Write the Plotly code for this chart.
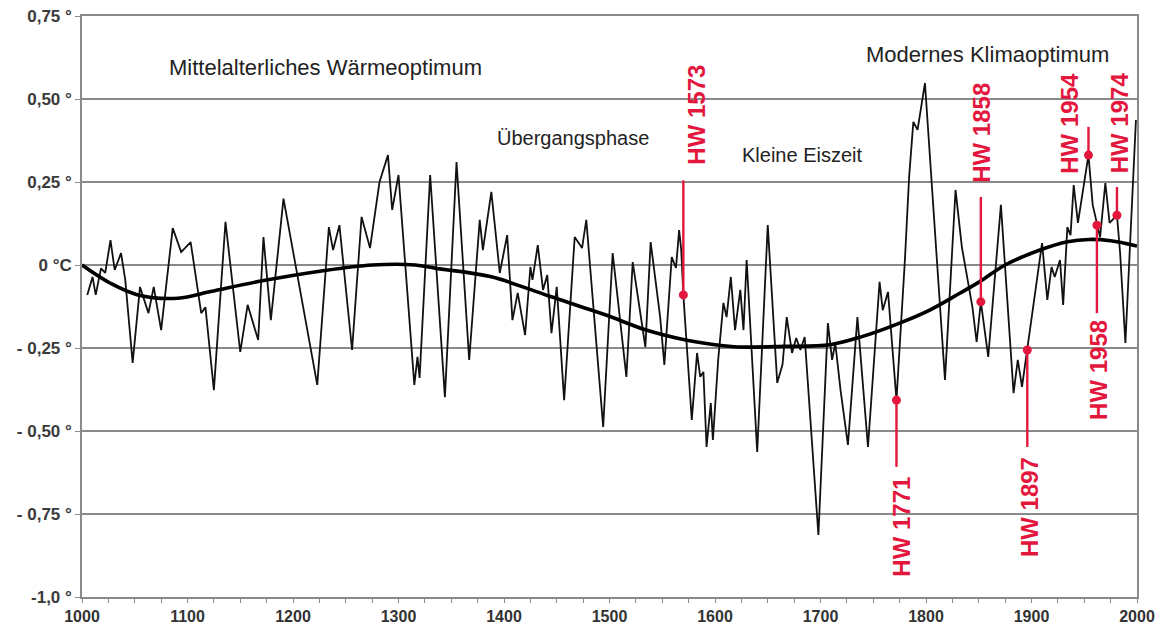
import plotly.graph_objects as go

# ---- data ----
years = [1005, 1010, 1013, 1018, 1022, 1027, 1031, 1037, 1041, 1048, 1055, 1063, 1068, 1075,
         1086, 1094, 1103, 1113, 1117, 1125, 1136, 1150, 1157, 1167, 1172, 1179, 1191, 1223,
         1234, 1238, 1244, 1256, 1265, 1273, 1282, 1290, 1294, 1300, 1315, 1318, 1320, 1330,
         1344, 1355, 1367, 1377, 1380, 1388, 1396, 1403, 1408, 1413, 1420, 1425, 1427, 1432,
         1437, 1441, 1445, 1450, 1457, 1462, 1467, 1474, 1478, 1494, 1503, 1516, 1522, 1534,
         1539, 1548, 1552, 1559, 1563, 1566, 1568, 1570, 1578, 1583, 1586, 1589, 1592, 1596,
         1598, 1603, 1608, 1611, 1615, 1619, 1624, 1627, 1630, 1640, 1650, 1659, 1664, 1668,
         1673, 1677, 1681, 1685, 1698, 1707, 1711, 1714, 1719, 1726, 1735, 1745, 1756, 1759,
         1764, 1772, 1780, 1784, 1788, 1792, 1799, 1818, 1828, 1834, 1840, 1844, 1848, 1852,
         1859, 1871, 1883, 1887, 1891, 1896, 1903, 1910, 1915, 1919, 1922, 1927, 1930, 1934,
         1937, 1940, 1944, 1954, 1958, 1962, 1965, 1970, 1974, 1981, 1984, 1989, 1995, 1999]
temps = [-0.09, -0.036, -0.09, -0.01, -0.024, 0.075, -0.015, 0.036, -0.045, -0.295, -0.066, -0.145, -0.066, -0.196,
         0.111, 0.039, 0.069, -0.145, -0.127, -0.377, 0.13, -0.262, -0.12, -0.226, 0.084, -0.166, 0.20, -0.361,
         0.114, 0.045, 0.12, -0.256, 0.145, 0.051, 0.25, 0.331, 0.166, 0.271, -0.361, -0.277, -0.34, 0.271,
         -0.398, 0.31, -0.286, 0.136, 0.045, 0.22, -0.024, 0.09, -0.166, -0.084, -0.211, -0.006, -0.045, 0.06,
         -0.075, -0.03, -0.205, -0.066, -0.407, -0.175, 0.084, 0.051, 0.136, -0.488, 0.036, -0.337, 0.009, -0.247,
         0.069, -0.157, -0.301, 0.024, -0.009, 0.105, 0.045, -0.09, -0.467, -0.265, -0.337, -0.322, -0.548, -0.416,
         -0.527, -0.286, -0.114, -0.157, -0.036, -0.196, -0.075, -0.196, 0.015, -0.563, 0.12, -0.355, -0.30, -0.157,
         -0.265, -0.22, -0.256, -0.217, -0.813, -0.175, -0.286, -0.235, -0.377, -0.542, -0.157, -0.548, -0.051, -0.136,
         -0.081, -0.407, 0.015, 0.265, 0.431, 0.407, 0.548, -0.346, 0.226, 0.054, -0.054, -0.127, -0.232, -0.111,
         -0.277, 0.181, -0.386, -0.286, -0.367, -0.256, -0.096, 0.066, -0.105, -0.006, -0.036, 0.015, -0.12, 0.114,
         0.09, 0.241, 0.127, 0.331, 0.181, 0.12, 0.084, 0.247, 0.127, 0.15, 0.036, -0.235, 0.157, 0.437]

trend_years = [1000, 1027, 1053, 1091, 1122, 1167, 1227, 1275, 1316, 1335, 1387, 1444, 1496, 1534,
               1571, 1600, 1622, 1666, 1709, 1740, 1775, 1804, 1832, 1851, 1875, 1908, 1934, 1955,
               1975, 2000]
trend_vals = [0.0, -0.055, -0.09, -0.10, -0.08, -0.05, -0.018, 0.0, 0.0, -0.01, -0.035, -0.095, -0.15, -0.195,
              -0.225, -0.24, -0.247, -0.245, -0.24, -0.215, -0.175, -0.135, -0.085, -0.05, 0.0, 0.045, 0.07, 0.077,
              0.073, 0.057]

# heat waves (HW): label, year of dot, value of dot, end value of leader line
hw_labels = ["HW 1573", "HW 1771", "HW 1858", "HW 1897", "HW 1954", "HW 1958", "HW 1974"]
hw_years = [1570, 1772, 1852, 1896, 1954, 1962, 1981]
hw_vals = [-0.09, -0.407, -0.111, -0.256, 0.331, 0.12, 0.15]
hw_line_end = [0.255, -0.608, 0.205, -0.548, 0.416, -0.145, 0.235]
hw_text_x = [1583, 1777, 1853, 1898, 1936, 1964, 1983]
hw_text_y = [0.453, -0.789, 0.398, -0.728, 0.427, -0.316, 0.427]

phase_labels = ["Mittelalterliches Wärmeoptimum", "Übergangsphase", "Kleine Eiszeit", "Modernes Klimaoptimum"]
phase_x = [1231, 1465, 1683, 1858]
phase_y = [0.596, 0.383, 0.331, 0.633]
phase_size = [22, 20, 20, 22]

y_tickvals = [0.75, 0.5, 0.25, 0.0, -0.25, -0.5, -0.75, -1.0]
y_ticktext = ["0,75 °", "0,50 °", "0,25 °", "0 °C", "- 0,25 °", "- 0,50 °", "- 0,75 °", "-1,0 °"]
x_tickvals = list(range(1000, 2001, 100))

RED = "#e3173d"
GRID = "#8a8a8a"
FONT = "Liberation Sans, Arial, sans-serif"

fig = go.Figure()
fig.add_trace(go.Scatter(x=years, y=temps, mode="lines",
                         line=dict(color="#111111", width=1.8), hoverinfo="skip"))
fig.add_trace(go.Scatter(x=trend_years, y=trend_vals, mode="lines",
                         line=dict(color="#000000", width=3.6, shape="spline", smoothing=1.0),
                         hoverinfo="skip"))

# leader lines
for yr, v, ve in zip(hw_years, hw_vals, hw_line_end):
    fig.add_shape(type="line", x0=yr, x1=yr, y0=v, y1=ve, xref="x", yref="y",
                  line=dict(color=RED, width=2.4))

fig.add_trace(go.Scatter(x=hw_years, y=hw_vals, mode="markers",
                         marker=dict(color=RED, size=9), hoverinfo="skip"))

for lab, tx, ty in zip(hw_labels, hw_text_x, hw_text_y):
    fig.add_annotation(x=tx, y=ty, text="<b>%s</b>" % lab, showarrow=False, textangle=-90,
                       xanchor="center", yanchor="middle",
                       font=dict(family=FONT, size=24, color=RED))

for lab, tx, ty, sz in zip(phase_labels, phase_x, phase_y, phase_size):
    fig.add_annotation(x=tx, y=ty, text=lab, showarrow=False,
                       xanchor="center", yanchor="middle",
                       font=dict(family=FONT, size=sz, color="#222222"))

fig.update_layout(
    width=1163, height=625,
    margin=dict(l=82, r=26, t=16, b=28),
    plot_bgcolor="white", paper_bgcolor="white",
    showlegend=False,
)
fig.update_xaxes(
    range=[1000, 2000], tickvals=x_tickvals,
    ticktext=["<b>%d</b>" % v for v in x_tickvals],
    ticks="outside", ticklen=4, tickcolor=GRID, tickwidth=1.3,
    showline=True, linecolor=GRID, linewidth=1.5, mirror=True,
    showgrid=False, zeroline=False, automargin=False,
    minor=dict(dtick=25, tick0=1000, ticks="outside", ticklen=4, tickcolor=GRID, showgrid=False),
    tickfont=dict(family=FONT, size=16, color="#333333"),
)
fig.update_yaxes(
    range=[-1.0, 0.75], tickvals=y_tickvals,
    ticktext=["<b>%s</b>" % t for t in y_ticktext],
    ticks="outside", ticklen=5, tickcolor=GRID, tickwidth=1.3,
    showline=True, linecolor=GRID, linewidth=1.5, mirror=True,
    showgrid=True, gridcolor=GRID, gridwidth=1.5, zeroline=False, automargin=False,
    ticklabeloverflow="allow",
    tickfont=dict(family=FONT, size=17, color="#3a3a3a"),
)

# remove the default 8px page margin so the figure fills the window exactly
fig.write_html("out.html", config={"displayModeBar": False},
               post_script="document.body.style.margin='0';document.body.style.overflow='hidden';")
